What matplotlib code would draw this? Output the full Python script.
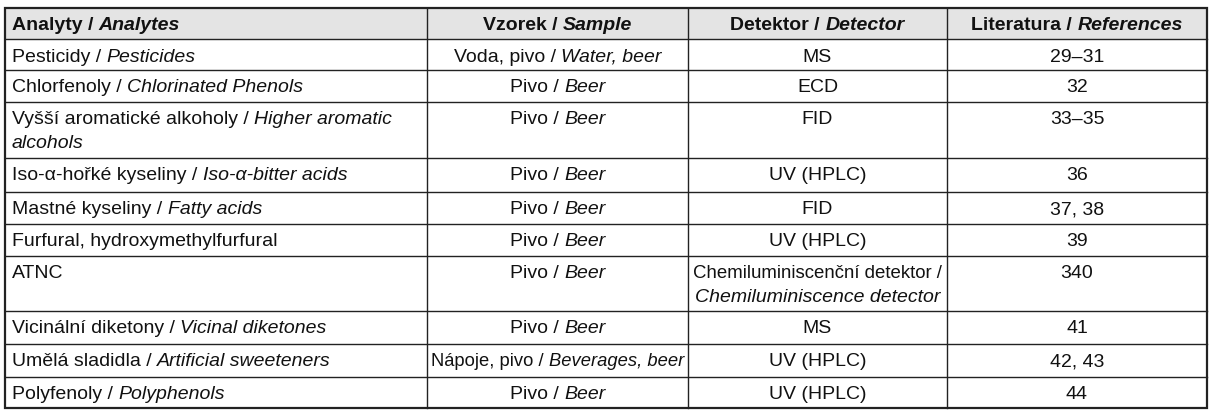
import matplotlib
matplotlib.use("Agg")
import matplotlib.pyplot as plt
from matplotlib.lines import Line2D
from matplotlib.patches import Rectangle

headers_cz = ["Analyty", "Vzorek", "Detektor", "Literatura"]
headers_en = ["Analytes", "Sample", "Detector", "References"]
analytes_cz = ["Pesticidy", "Chlorfenoly", "Vyšší aromatické alkoholy", "Iso-α-hořké kyseliny",
               "Mastné kyseliny", "Furfural, hydroxymethylfurfural", "ATNC", "Vicinální diketony",
               "Umělá sladidla", "Polyfenoly"]
analytes_en = ["Pesticides", "Chlorinated Phenols", "Higher aromatic\nalcohols", "Iso-α-bitter acids",
               "Fatty acids", "", "", "Vicinal diketones", "Artificial sweeteners", "Polyphenols"]
samples_cz = ["Voda, pivo", "Pivo", "Pivo", "Pivo", "Pivo", "Pivo", "Pivo", "Pivo", "Nápoje, pivo", "Pivo"]
samples_en = ["Water, beer", "Beer", "Beer", "Beer", "Beer", "Beer", "Beer", "Beer", "Beverages, beer", "Beer"]
detectors_cz = ["MS", "ECD", "FID", "UV (HPLC)", "FID", "UV (HPLC)", "Chemiluminiscenční detektor",
                "MS", "UV (HPLC)", "UV (HPLC)"]
detectors_en = ["", "", "", "", "", "", "\nChemiluminiscence detector", "", "", ""]
references = ["29–31", "32", "33–35", "36", "37, 38", "39", "340", "41", "42, 43", "44"]

W, H = 1211, 414
fig = plt.figure(figsize=(W / 100, H / 100), dpi=100)
fig.patch.set_facecolor("white")
ax = fig.add_axes([0, 0, 1, 1])
ax.set_xlim(0, W)
ax.set_ylim(H, 0)
ax.axis("off")
renderer = fig.canvas.get_renderer()

FS = 14
FONT = "Liberation Sans"
cols = [5, 427, 688, 947, 1207]
rows = [9, 40, 71, 103, 159, 193, 225, 257, 312, 345, 378, 409]

ax.add_patch(Rectangle((cols[0], rows[0]), cols[-1] - cols[0], rows[1] - rows[0],
                       facecolor="#e4e4e4", edgecolor="none", zorder=0))
for y in rows[1:-1]:
    ax.add_line(Line2D([cols[0], cols[-1]], [y, y], color="#222222", lw=1.0))
for x in cols[1:-1]:
    ax.add_line(Line2D([x, x], [rows[0], rows[-1]], color="#222222", lw=1.0))
ax.add_patch(Rectangle((cols[0], rows[0]), cols[-1] - cols[0], rows[-1] - rows[0],
                       facecolor="none", edgecolor="#222222", lw=1.6, zorder=3))


def seg_width(s, style, weight, fs):
    t = ax.text(0, 0, s, fontsize=fs, family=FONT, style=style, weight=weight)
    w = t.get_window_extent(renderer).width
    t.remove()
    return w


def draw_line(segs, x, y, align, maxw, weight="normal"):
    fs = FS
    widths = [seg_width(s, st, weight, fs) for s, st in segs]
    total = sum(widths)
    if total > maxw:
        fs = FS * maxw / total
        widths = [seg_width(s, st, weight, fs) for s, st in segs]
        total = sum(widths)
    if align == "center":
        x = x - total / 2
    for (s, st), w in zip(segs, widths):
        ax.text(x, y, s, fontsize=fs, family=FONT, style=st, weight=weight,
                va="center", ha="left", color="#111111")
        x += w


def cell_lines(cz, en):
    en_lines = en.split("\n") if en else []
    if en.startswith("\n"):
        return [[(cz + " /", "normal")], [(en_lines[1], "italic")]]
    if not en:
        return [[(cz, "normal")]]
    first = [(cz + " / ", "normal"), (en_lines[0], "italic")]
    return [first] + [[(l, "italic")] for l in en_lines[1:]]


def draw_cell(lines, c, top, weight="normal"):
    align = "left" if c == 0 else "center"
    x = cols[c] + 7 if c == 0 else (cols[c] + cols[c + 1]) / 2
    maxw = cols[c + 1] - cols[c] - 8
    for i, ln in enumerate(lines):
        draw_line(ln, x, top + 17 + 24 * i, align, maxw, weight)


for c in range(4):
    draw_cell([[(headers_cz[c] + " / ", "normal"), (headers_en[c], "italic")]], c, rows[0] - 1, "bold")

for r in range(len(analytes_cz)):
    top = rows[r + 1]
    draw_cell(cell_lines(analytes_cz[r], analytes_en[r]), 0, top)
    draw_cell(cell_lines(samples_cz[r], samples_en[r]), 1, top)
    draw_cell(cell_lines(detectors_cz[r], detectors_en[r]), 2, top)
    draw_cell([[(references[r], "normal")]], 3, top)

fig.savefig("out.png", dpi=100, facecolor="white")
